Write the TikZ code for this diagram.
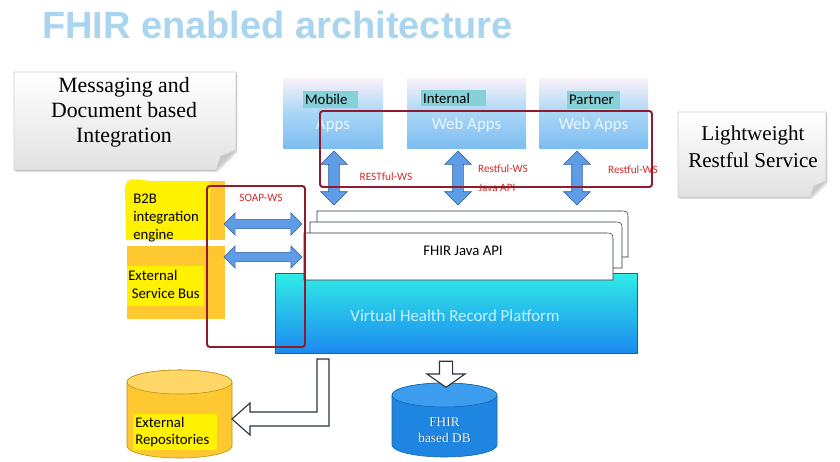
\documentclass[tikz,border=0pt]{standalone}
\usepackage{fontspec}
\usetikzlibrary{positioning,fit,calc,shapes.arrows,shadows}
\newfontfamily\titleFont{Liberation Sans}
\newfontfamily\noteFont{Liberation Serif}
\newfontfamily\uiFont{Carlito}
\definecolor{titleBlue}{HTML}{A9D5EF}
\definecolor{noteGray}{HTML}{E2E2E2}
\definecolor{noteEdge}{HTML}{D0D0D0}
\definecolor{noteFold}{HTML}{C8C8C8}
\definecolor{appTop}{HTML}{FBF2FA}
\definecolor{appMid}{HTML}{A9D6F6}
\definecolor{appBlue}{HTML}{7DBDF0}
\definecolor{appText}{HTML}{EAF6FF}
\definecolor{tagTeal}{HTML}{86D0D8}
\definecolor{frameRed}{HTML}{8E1B2E}
\definecolor{wsRed}{HTML}{D42A2A}
\definecolor{arrowBlue}{HTML}{5E9DE6}
\definecolor{arrowEdge}{HTML}{2F5E9E}
\definecolor{apiEdge}{HTML}{2A3440}
\definecolor{platformTop}{HTML}{30ECE6}
\definecolor{platformBottom}{HTML}{1C8AF0}
\definecolor{platformEdge}{HTML}{1560B8}
\definecolor{platformText}{HTML}{C4F2FF}
\definecolor{busOrange}{HTML}{FFC830}
\definecolor{markYellow}{HTML}{FFF200}
\definecolor{hollowEdge}{HTML}{2A3440}
\definecolor{repoYellow}{HTML}{FFC830}
\definecolor{repoTop}{HTML}{FFD766}
\definecolor{repoEdge}{HTML}{B8900A}
\definecolor{dbBlue}{HTML}{1E86E0}
\definecolor{dbTop}{HTML}{3C9DEE}
\definecolor{dbEdge}{HTML}{1565AF}
\definecolor{dbShade}{HTML}{0B3A70}
\tikzstyle{canvas} = [x=0.025cm, y=-0.025cm]
\tikzstyle{titleText} = [anchor=base west, inner sep=0, text=titleBlue, font=\titleFont\bfseries\fontsize{27}{32}\selectfont]
\tikzstyle{noteStyle} = [draw=noteEdge, thin, top color=white, bottom color=noteGray, drop shadow={opacity=0.25, shadow xshift=1pt, shadow yshift=-1.5pt}]
\tikzstyle{foldStyle} = [fill=noteFold, draw=noteEdge, thin]
\tikzstyle{noteText} = [align=center, inner sep=0, font=\noteFont\fontsize{15.5}{17.7}\selectfont]
\tikzstyle{appStyle} = [inner sep=0, top color=appTop, bottom color=appBlue, middle color=appMid]
\tikzstyle{appSubText} = [text=appText, inner sep=0, font=\uiFont\fontsize{12}{14}\selectfont]
\tikzstyle{tagStyle} = [inner sep=0, fill=tagTeal]
\tikzstyle{tagText} = [anchor=west, inner sep=1.5pt, font=\uiFont\fontsize{10.5}{12}\selectfont]
\tikzstyle{frameStyle} = [draw=frameRed, line width=1.4pt, rounded corners=2pt]
\tikzstyle{wsText} = [text=wsRed, inner sep=0, font=\uiFont\fontsize{8}{9}\selectfont]
\tikzstyle{wsArrow} = [double arrow, draw=arrowEdge, fill=arrowBlue, thin, inner xsep=0, inner ysep=0.125cm, double arrow head extend=0.2cm]
\tikzstyle{apiLayerStyle} = [draw=apiEdge, fill=white, thin]
\tikzstyle{apiText} = [inner sep=0, font=\uiFont\fontsize{10.5}{12}\selectfont]
\tikzstyle{platformStyle} = [inner sep=0, top color=platformTop, bottom color=platformBottom, draw=platformEdge, thin]
\tikzstyle{platformLabel} = [text=platformText, inner sep=0, font=\uiFont\fontsize{12}{14}\selectfont]
\tikzstyle{busStyle} = [inner sep=0, fill=busOrange]
\tikzstyle{markStyle} = [fill=markYellow]
\tikzstyle{busText} = [anchor=west, align=left, inner sep=0, font=\uiFont\fontsize{10.5}{12.8}\selectfont]
\tikzstyle{hollowArrow} = [draw=hollowEdge, fill=white, thick]
\tikzstyle{repoBody} = [fill=repoYellow, draw=repoEdge, thin]
\tikzstyle{repoEnd} = [fill=repoTop, draw=repoEdge, thin]
\tikzstyle{dbBody} = [fill=dbBlue, draw=dbEdge, thin]
\tikzstyle{dbEnd} = [fill=dbTop, draw=dbEdge, thin]
\tikzstyle{dbText} = [align=center, inner sep=0, font=\noteFont\fontsize{9.5}{11.3}\selectfont]
\newcommand{\appBox}[6]{\node [appStyle, fit={(#2,#3) (#4,#5)}] (#1) {};
  \node [appSubText] (#1Sub) at ($(#1.center)+(0,12)$) {#6};}
\newcommand{\appTag}[6]{\node [tagStyle, fit={(#2,#3) (#4,#5)}] (#1) {};
  \node [tagText] (#1Text) at (#1.west) {#6};}
\newcommand{\restArrow}[3]{\node [wsArrow, rotate=90, minimum height=1.35cm] (#1) at (#2,#3) {};}
\newcommand{\soapArrow}[3]{\node [wsArrow, inner ysep=0.11cm, double arrow head extend=0.16cm, minimum height=1.95cm] (#1) at (#2,#3) {};}
\newcommand{\apiLayer}[5]{\filldraw [apiLayerStyle] (#2,#5) -- (#2,#3) -- (#4-9,#3) .. controls (#4,#3) .. (#4,#3+9) -- (#4,#5) -- cycle;
  \coordinate (#1) at (#2,#3);}
\newcommand{\busBlock}[5]{\node [busStyle, fit={(#2,#3) (#4,#5)}] (#1) {};}
\newcommand{\dataStore}[6]{\filldraw [#2Body] (#3,#5) -- (#3,#6) arc [start angle=180, end angle=360, x radius=1.3125cm, y radius=0.3cm] -- (#4,#5) arc [start angle=0, end angle=180, x radius=1.3125cm, y radius=0.3cm] -- cycle;
  \filldraw [#2End] ($(#3,#5)!0.5!(#4,#5)$) ellipse [x radius=1.3125cm, y radius=0.3cm];
  \coordinate (#1) at ($(#3,#5)!0.5!(#4,#6)$);}

\begin{document}
\begin{tikzpicture}[canvas]
  \useasboundingbox [fill=white] (0,0) rectangle (840,461);
  \node [titleText] (title) at (42,38) {FHIR enabled architecture};

  \filldraw [noteStyle] (14,72) -- (236,72) -- (236,150) -- (216,170) -- (14,170) -- cycle;
  \filldraw [foldStyle] (236,150) -- (221,156) -- (216,170) -- cycle;
  \node [noteText] (messaging) at (124,112) {Messaging and\\Document based\\Integration};
  \filldraw [noteStyle] (678,112) -- (826,112) -- (826,181) -- (810,197) -- (678,197) -- cycle;
  \filldraw [foldStyle] (826,181) -- (814,186) -- (810,197) -- cycle;
  \node [noteText, font=\noteFont\fontsize{15}{19}\selectfont] (lightweight) at (753,147) {Lightweight\\Restful Service};

  \appBox{mobile}{283}{78}{383}{148}{Apps}
  \appBox{internal}{407}{78}{526}{148}{Web Apps}
  \appBox{partner}{539}{78}{648}{148}{Web Apps}
  \appTag{mobileTag}{303}{91}{358}{108}{Mobile}
  \appTag{internalTag}{421}{90}{486}{106}{Internal}
  \appTag{partnerTag}{567}{91}{620}{109}{Partner}

  \restArrow{mobileWs}{334}{178}
  \restArrow{internalWs}{458}{178}
  \restArrow{partnerWs}{577}{178}
  \node [wsText] (mobileWsText) at (386,177) {RESTful-WS};
  \node [wsText] (internalWsText) at (503,169) {Restful-WS};
  \node [wsText] (javaApiText) at (497,188) {Java API};
  \node [wsText] (partnerWsText) at (633,170) {Restful-WS};

  \node [platformStyle, fit={(275,273) (637,353)}] (platform) {};
  \node [platformLabel] (platformText) at (455,316) {Virtual Health Record Platform};
  \apiLayer{apiBack}{317}{211}{628}{257}
  \apiLayer{apiMiddle}{310}{222}{622}{268}
  \apiLayer{apiFront}{304}{233}{613}{280}
  \node [apiText] (api) at (463,251) {FHIR Java API};

  \busBlock{b2b}{127}{181}{225}{240}
  \busBlock{esb}{127}{246}{225}{319}
  \fill [markStyle] (125,188) .. controls (128,178) .. (150,181) -- (210,181) -- (210,240) -- (126,240) -- cycle;
  \fill [markStyle] (127,266) rectangle (204,306);
  \node [busText] (b2bText) at (133,218) {B2B\\integration\\engine};
  \node [busText] (esbText) at (128,284) {External\\\hspace*{2.5pt}Service Bus};

  \soapArrow{b2bSoap}{263}{224}
  \soapArrow{esbSoap}{263}{257}
  \node [wsText] (soapText) at (261,198) {SOAP-WS};

  \draw [frameStyle] (320,111) rectangle (652,187);
  \draw [frameStyle] (207,186) rectangle (305,347);

  \dataStore{repos}{repo}{127}{232}{382}{446}
  \dataStore{db}{db}{392}{497}{395}{445}
  \fill [markStyle] (133,414) rectangle (217,450);
  \node [busText, font=\uiFont\fontsize{10.5}{12}\selectfont] (reposText) at (135,432) {External\\Repositories};
  \node [dbText, text=dbShade] (dbTextShade) at ($(db)+(0.6,10.6)$) {FHIR\\based DB};
  \node [dbText, text=white] (dbText) at ($(db)+(0,10)$) {FHIR\\based DB};

  \filldraw [hollowArrow] (317,359) -- (329,359) -- (329,426) -- (250,426) -- (250,435) -- (232,419) -- (250,403) -- (250,412) -- (317,412) -- cycle;
  \node [hollowArrow, single arrow, rotate=-90, inner xsep=0, inner ysep=0.15cm, minimum height=0.65cm, single arrow head extend=0.31cm, single arrow tip angle=110] (toDb) at (446,372) {};
\end{tikzpicture}
\end{document}
